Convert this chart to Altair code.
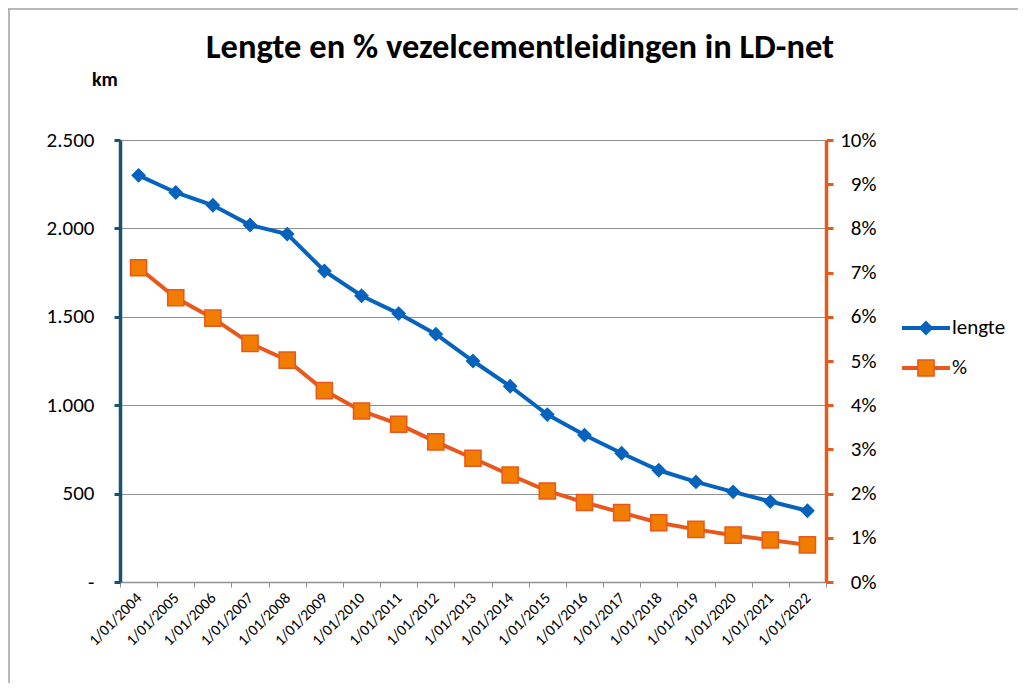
import altair as alt
import pandas as pd

# ---- data ----
years = ["1/01/2004", "1/01/2005", "1/01/2006", "1/01/2007", "1/01/2008",
         "1/01/2009", "1/01/2010", "1/01/2011", "1/01/2012", "1/01/2013",
         "1/01/2014", "1/01/2015", "1/01/2016", "1/01/2017", "1/01/2018",
         "1/01/2019", "1/01/2020", "1/01/2021", "1/01/2022"]
lengte_km = [2300, 2203, 2131, 2019, 1968, 1759, 1619, 1518, 1402, 1250,
             1107, 947, 831, 728, 632, 566, 510, 455, 403]
pct = [7.11, 6.43, 5.97, 5.40, 5.02, 4.33, 3.87, 3.57, 3.17, 2.80,
       2.42, 2.06, 1.80, 1.57, 1.34, 1.19, 1.06, 0.95, 0.84]
km_ticks = [0, 500, 1000, 1500, 2000, 2500]
pct_ticks = [0, 1, 2, 3, 4, 5, 6, 7, 8, 9, 10]
title_text = "Lengte en % vezelcementleidingen in LD-net"
unit_text = "km"
legend_labels = ["lengte", "%"]

FONT = "Carlito, Calibri, Lato"
BLUE = "#0563BE"
ORANGE_LINE = "#E8581C"
ORANGE_FILL = "#F07C00"
TEAL = "#17546E"
GRID = "#8F8F8F"

df = pd.DataFrame({"jaar": years, "lengte": lengte_km, "pct": pct})

W, H = 706, 442

xenc = alt.X("jaar:N", sort=years,
             scale=alt.Scale(type="band", paddingInner=0, paddingOuter=0),
             axis=alt.Axis(title=None, labelAngle=315, labelAlign="right",
                           labelBaseline="middle", labelFontSize=15.5,
                           labelFont=FONT, labelColor="black", labelPadding=8,
                           tickBand="extent", tickSize=5, tickColor=GRID,
                           domainColor=GRID, domainWidth=1.5, grid=False,
                           labelOverlap=False),
             bandPosition=0.5)

base = alt.Chart(df)

ykm = alt.Y("lengte:Q", scale=alt.Scale(domain=[0, 2500], nice=False),
            axis=alt.Axis(title=None, values=km_ticks, orient="left",
                          labelExpr="datum.value == 0 ? '-' : replace(format(datum.value, ','), ',', '.')",
                          labelFont=FONT, labelFontSize=21, labelColor="black",
                          labelPadding=20, tickSize=6, tickWidth=3, tickColor=TEAL,
                          domainColor=TEAL, domainWidth=3.5, grid=True,
                          gridColor=GRID, gridWidth=1.2))

ypct = alt.Y("pct:Q", scale=alt.Scale(domain=[0, 10], nice=False),
             axis=alt.Axis(title=None, values=pct_ticks, orient="right",
                           labelExpr="datum.value + '%'", labelAlign="right",
                           labelFont=FONT, labelFontSize=21, labelColor="black",
                           labelPadding=43, tickSize=7, tickWidth=3,
                           tickColor=ORANGE_LINE, domainColor=ORANGE_LINE,
                           domainWidth=3.5, grid=False))

km_line = base.mark_line(color=BLUE, strokeWidth=4).encode(x=xenc, y=ykm)
km_pts = base.mark_point(shape="diamond", filled=True, size=220, color=BLUE,
                         opacity=1).encode(x=xenc, y=ykm)
km_layer = alt.layer(km_line, km_pts)

pct_line = base.mark_line(color=ORANGE_LINE, strokeWidth=4).encode(x=xenc, y=ypct)
pct_pts = base.mark_point(shape="square", filled=True, size=260, fill=ORANGE_FILL,
                          stroke=ORANGE_LINE, strokeWidth=1.5,
                          opacity=1).encode(x=xenc, y=ypct)
pct_layer = alt.layer(pct_line, pct_pts)

one = pd.DataFrame({"k": [0]})
title_mark = alt.Chart(one).mark_text(text=title_text, font=FONT, fontSize=34.5,
                                      fontWeight="bold", color="black",
                                      align="center", baseline="alphabetic").encode(
    x=alt.value(400), y=alt.value(-82))
unit_mark = alt.Chart(one).mark_text(text=unit_text, font=FONT, fontSize=20,
                                     fontWeight="bold", color="black",
                                     align="left", baseline="middle").encode(
    x=alt.value(-28), y=alt.value(-60))

# legend
leg1_line = alt.Chart(one).mark_rule(color=BLUE, strokeWidth=4).encode(
    x=alt.value(782), x2=alt.value(830), y=alt.value(188))
leg1_pt = alt.Chart(one).mark_point(shape="diamond", filled=True, size=220,
                                    color=BLUE, opacity=1).encode(
    x=alt.value(806), y=alt.value(188))
leg1_txt = alt.Chart(one).mark_text(text=legend_labels[0], font=FONT, fontSize=21,
                                    color="black", align="left",
                                    baseline="middle").encode(
    x=alt.value(832), y=alt.value(188))
leg2_line = alt.Chart(one).mark_rule(color=ORANGE_LINE, strokeWidth=4).encode(
    x=alt.value(782), x2=alt.value(830), y=alt.value(228))
leg2_pt = alt.Chart(one).mark_point(shape="square", filled=True, size=260,
                                    fill=ORANGE_FILL, stroke=ORANGE_LINE,
                                    strokeWidth=1.5, opacity=1).encode(
    x=alt.value(806), y=alt.value(228))
leg2_txt = alt.Chart(one).mark_text(text=legend_labels[1], font=FONT, fontSize=21,
                                    color="black", align="left",
                                    baseline="middle").encode(
    x=alt.value(832), y=alt.value(228))

# outer chart frame (left and top edges visible in the reference)
frame_left = alt.Chart(one).mark_rule(color="#A0A0A0", strokeWidth=1.5).encode(
    x=alt.value(-111), y=alt.value(-131), y2=alt.value(545))
frame_top = alt.Chart(one).mark_rule(color="#A0A0A0", strokeWidth=1.5).encode(
    x=alt.value(-112), x2=alt.value(900), y=alt.value(-131))

chart = alt.layer(
    km_layer, pct_layer, title_mark, unit_mark,
    leg1_line, leg1_pt, leg1_txt, leg2_line, leg2_pt, leg2_txt,
    frame_left, frame_top
).resolve_scale(y="independent").properties(
    width=W, height=H,
    autosize=alt.AutoSizeParams(type="none"),
    padding={"left": 112, "top": 132, "right": 192, "bottom": 101},
    background="white",
).configure_view(stroke=None)

chart.save("out.html", embed_options={"renderer": "svg", "actions": False})
